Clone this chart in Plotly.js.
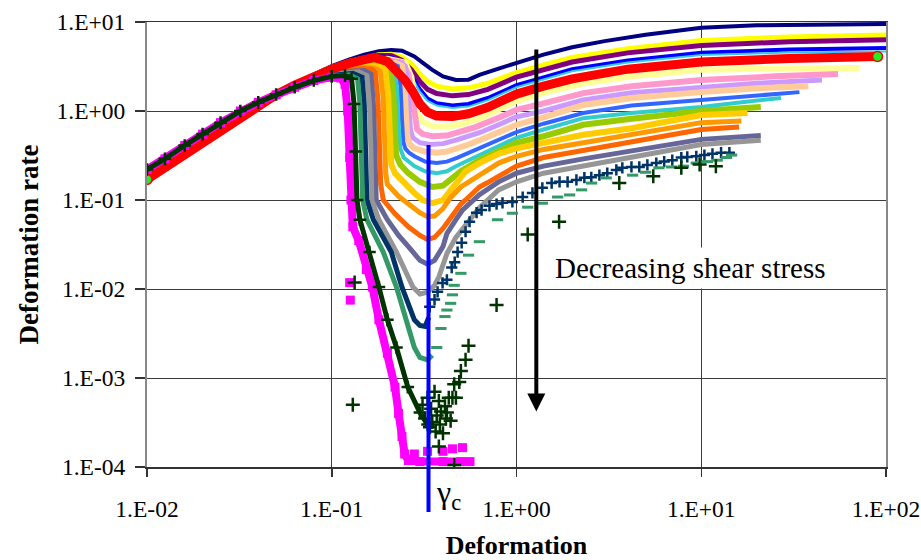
<!DOCTYPE html>
<html>
<head>
<meta charset="utf-8">
<script src="https://cdn.plot.ly/plotly-3.0.1.min.js"></script>
<style>html,body{margin:0;padding:0;background:#fff;}#chart{width:921px;height:560px;}</style>
</head>
<body>
<div id="chart"></div>
<script>
// ---------- data ----------
const xTickVals = [0.01, 0.1, 1, 10, 100];
const xTickText = ['1.E-02', '1.E-01', '1.E+00', '1.E+01', '1.E+02'];
const yTickVals = [0.0001, 0.001, 0.01, 0.1, 1, 10];
const yTickText = ['1.E-04', '1.E-03', '1.E-02', '1.E-01', '1.E+00', '1.E+01'];

// common rising part
const riseX = [0.01, 0.0125, 0.016, 0.02, 0.025, 0.032, 0.04];
const riseY = [0.22, 0.29, 0.41, 0.55, 0.74, 1.0, 1.25];
const redRiseY = [0.17, 0.23, 0.33, 0.46, 0.63, 0.88, 1.18];

const navyX = [0.05,0.063,0.08,0.1,0.125,0.15,0.18,0.21,0.24,0.28,0.31,0.35,0.4,0.47,0.55,0.63,0.8,1.0,1.4,2.0,3.0,5.0,10,20,40,100];
const navyY = [1.65,2.05,2.6,3.2,3.8,4.3,4.7,4.85,4.75,4.1,3.5,2.9,2.45,2.23,2.25,2.55,3.0,3.45,4.3,5.2,6.1,7.2,8.6,9.2,9.4,9.5];

const upX = [0.05,0.063,0.08,0.1,0.125,0.15,0.18,0.21,0.24,0.27,0.3,0.33,0.37,0.45,0.55,0.7,1.0,1.4,2.0,4.0,10,30,100];
const yellowY = [1.62,2.02,2.55,3.1,3.6,4.0,4.3,4.35,4.05,3.4,2.6,2.15,1.9,1.77,1.82,2.05,2.7,3.3,4.0,5.0,6.2,6.8,7.15];
const purpleY = [1.6,2.0,2.5,3.05,3.55,3.95,4.2,4.2,3.7,2.9,2.15,1.75,1.57,1.48,1.53,1.75,2.4,2.95,3.55,4.5,5.45,6.0,6.3];
const blueY = [1.6,1.98,2.48,3.0,3.5,3.9,4.1,4.05,3.4,2.5,1.75,1.38,1.22,1.15,1.2,1.4,1.95,2.4,2.95,3.7,4.5,4.9,5.1];
const cyanY = [1.6,1.98,2.47,2.98,3.45,3.85,4.05,3.95,3.3,2.4,1.65,1.3,1.15,1.08,1.12,1.32,1.85,2.28,2.8,3.5,4.25,4.55,4.65];

const redX = [0.05,0.063,0.08,0.1,0.125,0.15,0.17,0.2,0.224,0.25,0.275,0.3,0.33,0.37,0.45,0.55,0.7,1.0,1.4,2.0,4.0,10,30,90];
const redY = [1.52,1.95,2.45,2.95,3.45,3.85,4.0,3.6,2.9,2.2,1.65,1.2,0.97,0.88,0.87,0.93,1.1,1.55,1.9,2.3,2.95,3.55,3.9,4.1];

const lyX = [0.05,0.063,0.08,0.1,0.125,0.15,0.2,0.25,0.27,0.28,0.29,0.31,0.35,0.42,0.5,0.63,0.8,1.0,1.4,2.3,4.2,7,10,25,72];
const lyY = [1.6,1.97,2.45,3.0,3.4,3.7,3.85,3.5,2.4,1.5,0.95,0.76,0.68,0.67,0.71,0.82,1.05,1.3,1.6,2.05,2.45,2.7,2.9,3.0,3.05];

const pinkX = [0.05,0.063,0.08,0.1,0.125,0.15,0.2,0.24,0.26,0.27,0.28,0.29,0.31,0.35,0.42,0.5,0.6,0.8,1.0,1.4,2.3,4.2,7,10,25,55];
const pinkY = [1.58,1.95,2.42,2.95,3.35,3.65,3.75,3.5,2.6,1.5,0.85,0.62,0.55,0.52,0.53,0.58,0.66,0.84,1.03,1.22,1.59,1.9,2.1,2.23,2.45,2.6];

const lavX = [0.05,0.063,0.08,0.1,0.125,0.15,0.19,0.23,0.25,0.258,0.262,0.267,0.275,0.285,0.3,0.34,0.4,0.47,0.55,0.63,0.8,1.0,1.4,2.3,4.2,7,10,20,45];
const lavY = [1.57,1.93,2.4,2.9,3.3,3.55,3.65,3.55,3.2,2.0,1.0,0.6,0.5,0.47,0.44,0.42,0.43,0.47,0.52,0.57,0.7,0.86,1.0,1.33,1.6,1.75,1.86,2.05,2.23];

const peachX = [0.05,0.063,0.08,0.1,0.125,0.15,0.19,0.22,0.24,0.248,0.252,0.257,0.265,0.28,0.32,0.37,0.42,0.48,0.55,0.63,0.8,1.0,1.4,2.3,4.2,7,10,20,38];
const peachY = [1.56,1.92,2.38,2.85,3.25,3.5,3.6,3.5,3.2,1.9,0.9,0.5,0.42,0.38,0.35,0.34,0.35,0.38,0.42,0.47,0.58,0.7,0.85,1.17,1.4,1.55,1.63,1.8,1.9];

const blue2X = [0.05,0.063,0.08,0.1,0.125,0.15,0.18,0.21,0.228,0.236,0.24,0.244,0.25,0.262,0.28,0.32,0.37,0.42,0.48,0.55,0.63,0.8,1.0,1.4,2.3,4.2,7,10,20,34];
const blue2Y = [1.56,1.9,2.35,2.8,3.2,3.45,3.5,3.45,3.2,1.8,0.8,0.45,0.38,0.34,0.31,0.27,0.26,0.27,0.3,0.34,0.38,0.48,0.58,0.72,0.95,1.15,1.25,1.33,1.5,1.63];

const turqX = [0.05,0.063,0.08,0.1,0.125,0.15,0.18,0.2,0.218,0.226,0.23,0.235,0.245,0.26,0.28,0.32,0.37,0.42,0.47,0.55,0.63,0.8,1.0,1.4,2.3,4.2,7,10,18,27];
const turqY = [1.56,1.9,2.33,2.78,3.15,3.38,3.42,3.35,3.1,1.7,0.7,0.38,0.3,0.27,0.24,0.21,0.2,0.21,0.24,0.28,0.32,0.41,0.5,0.62,0.83,0.95,1.05,1.11,1.28,1.4];

const ygX = [0.05,0.063,0.08,0.1,0.125,0.15,0.19,0.207,0.215,0.219,0.223,0.235,0.26,0.3,0.35,0.4,0.45,0.5,0.63,0.8,1.0,1.4,2.3,4.2,7,10,21];
const ygY = [1.55,1.9,2.3,2.75,3.1,3.3,3.25,3.0,1.6,0.6,0.32,0.25,0.2,0.16,0.14,0.145,0.18,0.21,0.28,0.36,0.44,0.52,0.7,0.82,0.93,1.0,1.11];

const goldX = [0.05,0.063,0.08,0.1,0.125,0.15,0.18,0.195,0.202,0.206,0.21,0.22,0.25,0.28,0.31,0.35,0.4,0.44,0.5,0.53,0.63,0.8,1.0,1.4,2.3,4.2,7,10,17.8];
const goldY = [1.55,1.88,2.28,2.72,3.05,3.2,3.15,2.9,1.5,0.5,0.25,0.2,0.15,0.12,0.1,0.092,0.1,0.13,0.18,0.21,0.26,0.33,0.38,0.44,0.54,0.64,0.8,0.9,0.95];

const orangeX = [0.05,0.063,0.08,0.1,0.125,0.15,0.17,0.183,0.19,0.193,0.196,0.2,0.23,0.27,0.3,0.33,0.36,0.4,0.44,0.5,0.63,0.8,1.0,1.4,2.3,4.2,7,10,16.5];
const orangeY = [1.55,1.88,2.25,2.7,3.0,3.1,3.05,2.8,1.4,0.45,0.2,0.15,0.11,0.085,0.072,0.065,0.066,0.08,0.107,0.14,0.19,0.26,0.31,0.37,0.44,0.54,0.66,0.74,0.77];

const orredX = [0.05,0.063,0.08,0.1,0.125,0.15,0.165,0.172,0.178,0.181,0.184,0.19,0.22,0.26,0.3,0.33,0.36,0.4,0.44,0.5,0.53,0.63,0.69,1.0,1.4,2.3,4.2,7,10,16];
const orredY = [1.55,1.87,2.22,2.65,2.9,3.0,2.95,2.7,1.3,0.4,0.15,0.1,0.07,0.05,0.04,0.036,0.038,0.048,0.064,0.09,0.1,0.14,0.155,0.24,0.3,0.36,0.45,0.55,0.62,0.66];

const slateX = [0.05,0.063,0.08,0.1,0.125,0.15,0.163,0.168,0.171,0.174,0.2,0.23,0.26,0.3,0.33,0.36,0.4,0.42,0.47,0.51,0.63,0.8,1.0,1.4,2.3,4.2,7,10,21];
const slateY = [1.54,1.86,2.2,2.6,2.8,2.85,2.6,1.2,0.35,0.1,0.06,0.04,0.03,0.021,0.019,0.021,0.03,0.042,0.06,0.077,0.115,0.16,0.2,0.24,0.29,0.36,0.43,0.48,0.53];

const grayX = [0.05,0.063,0.08,0.1,0.125,0.14,0.155,0.16,0.163,0.165,0.18,0.224,0.275,0.3,0.33,0.36,0.38,0.42,0.47,0.557,0.63,0.8,1.0,1.4,2.3,4.2,7,10,21];
const grayY = [1.54,1.86,2.2,2.55,2.7,2.75,2.5,1.2,0.35,0.1,0.06,0.026,0.0105,0.0088,0.0092,0.011,0.0137,0.025,0.038,0.06,0.082,0.13,0.16,0.2,0.24,0.3,0.37,0.42,0.47];

const navyPlusX = [0.05,0.063,0.08,0.1,0.13,0.146,0.15,0.153,0.155,0.168,0.21,0.24,0.28,0.3,0.32,0.335];
const navyPlusY = [1.54,1.86,2.2,2.5,2.65,2.4,1.2,0.35,0.1,0.06,0.026,0.0105,0.0045,0.0039,0.0038,0.0048];
const navyPlusSparseX = [0.339,0.36,0.374,0.398,0.42,0.446,0.463,0.48,0.505,0.53,0.557,0.608,0.647,0.714,0.78,0.84,0.95,1.08,1.22,1.38,1.55,1.71,1.89,2.11,2.33,2.54,2.81,3.1,3.47,3.74,4.19,4.62,5.11,5.71,6.3,6.97,7.8,8.4,9.4,10.4,11.5,12.8,14.2];
const navyPlusSparseY = [0.0063,0.0076,0.0093,0.0117,0.0127,0.0174,0.02,0.026,0.033,0.044,0.057,0.072,0.077,0.086,0.09,0.093,0.095,0.108,0.12,0.137,0.155,0.16,0.16,0.168,0.178,0.18,0.19,0.2,0.218,0.23,0.235,0.235,0.248,0.26,0.27,0.28,0.3,0.305,0.31,0.32,0.33,0.34,0.34];

const seaX = [0.05,0.063,0.08,0.1,0.125,0.138,0.142,0.145,0.147,0.155,0.19,0.224,0.254,0.28,0.3,0.33,0.35];
const seaY = [1.53,1.85,2.2,2.45,2.55,2.3,1.2,0.35,0.1,0.06,0.026,0.0105,0.0045,0.0022,0.0017,0.0016,0.0018];
const seaSparseX = [0.37,0.39,0.41,0.42,0.44,0.45,0.46,0.5,0.55,0.63,0.79,0.95,1.15,1.38,1.67,1.94,2.25,2.55,3.06,4.25,5.0,5.9,6.9,8.0,9.4,10.8,12.2,13.7,14.6];
const seaSparseY = [0.0022,0.0036,0.0049,0.0058,0.0069,0.0086,0.011,0.015,0.024,0.034,0.06,0.071,0.083,0.092,0.108,0.114,0.13,0.155,0.177,0.19,0.205,0.23,0.235,0.24,0.26,0.27,0.28,0.3,0.32];

const dgX = [0.05,0.063,0.08,0.1,0.118,0.128,0.132,0.135,0.137,0.142,0.16,0.18,0.2,0.224,0.258,0.3,0.33];
const dgY = [1.53,1.85,2.2,2.45,2.5,2.3,1.2,0.35,0.1,0.06,0.026,0.0105,0.0045,0.0022,0.00079,0.00041,0.0003];
const dgSparseX = [0.31,0.32,0.33,0.34,0.345,0.35,0.36,0.365,0.37,0.38,0.385,0.39,0.4,0.41,0.415,0.42,0.43,0.44,0.45,0.46,0.47,0.49,0.5,0.53,0.55,0.38,0.46,0.133,0.13,0.78,1.15,1.7,3.6,5.5,7.8,9.8,12];
const dgSparseY = [0.0005,0.00035,0.0006,0.00028,0.00045,0.00032,0.0007,0.00025,0.00038,0.00055,0.0003,0.00042,0.00024,0.00048,0.00035,0.00041,0.0006,0.00033,0.0006,0.00085,0.0006,0.0009,0.0012,0.0016,0.0023,0.00017,0.000105,0.0118,0.0005,0.0066,0.041,0.057,0.155,0.185,0.23,0.25,0.24];

const magX = [0.05,0.063,0.08,0.1,0.112,0.118,0.122,0.125,0.127,0.13,0.14,0.154,0.166,0.18,0.2,0.22,0.23,0.24,0.248,0.26,0.3,0.4,0.5,0.56];
const magY = [1.52,1.85,2.2,2.4,2.35,2.0,1.0,0.3,0.1,0.05,0.035,0.0165,0.0105,0.0045,0.0019,0.00079,0.0004,0.00022,0.00014,0.000118,0.000115,0.000115,0.000115,0.000115];
const magSparseX = [0.125,0.126,0.28,0.33,0.4,0.45,0.51];
const magSparseY = [0.0118,0.0075,0.00014,0.00015,0.00015,0.00016,0.000165];

// annotation anchors
const gammaC = 0.334;         // critical deformation (blue line)
const gammaCTop = 0.415;      // top of blue line (deformation rate)
const arrowX = 1.28;
const arrowTailY = 5.1;
const arrowTipY = 0.00042;

// ---------- traces ----------
function ln(x, y, color, width) {
  return {type: 'scatter', mode: 'lines', x: x, y: y, hoverinfo: 'skip',
          line: {color: color, width: width, shape: 'linear'}};
}
function mk(x, y, color, symbol, size, lw) {
  return {type: 'scatter', mode: 'markers', x: x, y: y, hoverinfo: 'skip',
          marker: {color: color, symbol: symbol, size: size, line: {color: color, width: lw}}};
}
const cat = (a, b) => a.concat(b);
const redAllX = cat(riseX, redX), redAllY = cat(redRiseY, redY);

const traces = [
  ln(cat(riseX, navyX), cat(riseY, navyY), '#000080', 4),
  ln(cat(riseX, upX), cat(riseY, yellowY), '#FFFF00', 5),
  ln(cat(riseX, upX), cat(riseY, purpleY), '#800080', 5),
  ln(cat(riseX, upX), cat(riseY, blueY), '#0000FF', 4),
  ln(cat(riseX, upX), cat(riseY, cyanY), '#33CCFF', 2),
  ln(cat(riseX, lyX), cat(riseY, lyY), '#FFFF99', 6),
  ln(cat(riseX, pinkX), cat(riseY, pinkY), '#FF99CC', 6),
  ln(cat(riseX, lavX), cat(riseY, lavY), '#CC99FF', 5),
  ln(cat(riseX, peachX), cat(riseY, peachY), '#FFCC99', 6),
  ln(cat(riseX, blue2X), cat(riseY, blue2Y), '#3366FF', 4),
  ln(cat(riseX, turqX), cat(riseY, turqY), '#33CCCC', 4),
  ln(cat(riseX, ygX), cat(riseY, ygY), '#99CC00', 6),
  ln(cat(riseX, goldX), cat(riseY, goldY), '#FFCC00', 6),
  ln(cat(riseX, orangeX), cat(riseY, orangeY), '#FF9900', 5),
  ln(cat(riseX, orredX), cat(riseY, orredY), '#FF6600', 5),
  ln(cat(riseX, slateX), cat(riseY, slateY), '#666699', 5),
  ln(cat(riseX, grayX), cat(riseY, grayY), '#969696', 5),
  ln(redAllX, redAllY, '#FF0000', 9),
  {type: 'scatter', mode: 'markers', hoverinfo: 'skip',
   x: [redAllX[0], redAllX[redAllX.length - 1]], y: [redAllY[0], redAllY[redAllY.length - 1]],
   marker: {symbol: 'circle', size: 10, color: '#22EE22', line: {color: '#FF0000', width: 1.5}}},
  ln(cat(riseX, navyPlusX), cat(riseY, navyPlusY), '#003366', 5),
  mk(navyPlusSparseX, navyPlusSparseY, '#003366', 'cross-thin', 8, 2.5),
  ln(cat(riseX, seaX), cat(riseY, seaY), '#339966', 5),
  mk(seaSparseX, seaSparseY, '#339966', 'line-ew', 8, 3),
  {type: 'scatter', mode: 'lines+markers', x: cat(riseX, magX), y: cat(riseY, magY), hoverinfo: 'skip',
   line: {color: '#FF00FF', width: 8}, marker: {symbol: 'square', size: 9, color: '#FF00FF'}},
  mk(magSparseX, magSparseY, '#FF00FF', 'square', 9, 0),
  {type: 'scatter', mode: 'lines+markers', x: cat(riseX, dgX), y: cat(riseY, dgY), hoverinfo: 'skip',
   line: {color: '#003300', width: 5},
   marker: {symbol: 'cross-thin', size: 9, color: '#003300', line: {color: '#003300', width: 2.5}}},
  mk(dgSparseX, dgSparseY, '#003300', 'cross-thin', 10, 2.5)
];

const serif = 'Liberation Serif, Times New Roman, serif';

const layout = {
  width: 921, height: 560,
  margin: {l: 147, r: 35, t: 22, b: 93},
  paper_bgcolor: '#fff', plot_bgcolor: '#fff',
  showlegend: false,
  font: {family: serif, color: '#000'},
  xaxis: {
    type: 'log', range: [-2, 2],
    tickvals: xTickVals, ticktext: xTickText,
    tickfont: {family: serif, size: 23.5, color: '#000'},
    ticks: 'outside', ticklen: 8, tickwidth: 1.5, tickcolor: '#333',
    ticklabelstandoff: 12,
    showgrid: true, gridcolor: '#3c3c3c', gridwidth: 1,
    showline: true, linecolor: '#333', linewidth: 1.5, mirror: true,
    zeroline: false,
    title: {text: '<b>Deformation</b>', font: {family: serif, size: 26, color: '#000'}, standoff: 17}
  },
  yaxis: {
    type: 'log', range: [-4, 1],
    tickvals: yTickVals, ticktext: yTickText,
    tickfont: {family: serif, size: 23.5, color: '#000'},
    ticks: 'outside', ticklen: 10, tickwidth: 1.5, tickcolor: '#333',
    ticklabelstandoff: 5,
    showgrid: true, gridcolor: '#3c3c3c', gridwidth: 1,
    showline: true, linecolor: '#888', linewidth: 2, mirror: true,
    zeroline: false,
    title: {text: '<b>Deformation rate</b>', font: {family: serif, size: 27, color: '#000'}, standoff: 10}
  },
  shapes: [
    {type: 'line', xref: 'x', yref: 'paper', x0: gammaC, x1: gammaC,
     y0: -0.101, y1: (Math.log10(gammaCTop) + 4) / 5,
     line: {color: '#0000FF', width: 4}}
  ],
  annotations: [
    {xref: 'x', yref: 'y', axref: 'x', ayref: 'y',
     x: Math.log10(arrowX), y: Math.log10(arrowTipY),
     ax: Math.log10(arrowX), ay: Math.log10(arrowTailY),
     text: '', showarrow: true, arrowhead: 2, arrowsize: 0.9, arrowwidth: 4, arrowcolor: '#000'},
    {xref: 'paper', yref: 'paper', x: 0.7361, y: 0.4472, xanchor: 'center', yanchor: 'middle',
     text: 'Decreasing shear stress', showarrow: false, bgcolor: '#fff', borderpad: 4,
     font: {family: serif, size: 29, color: '#000'}},
    {xref: 'paper', yref: 'paper', x: 0.408, y: -0.062, xanchor: 'center', yanchor: 'middle',
     text: 'γ<sub>c</sub>', showarrow: false,
     font: {family: serif, size: 32, color: '#000'}}
  ]
};

Plotly.newPlot('chart', traces, layout, {displayModeBar: false, staticPlot: true});
</script>
</body>
</html>
